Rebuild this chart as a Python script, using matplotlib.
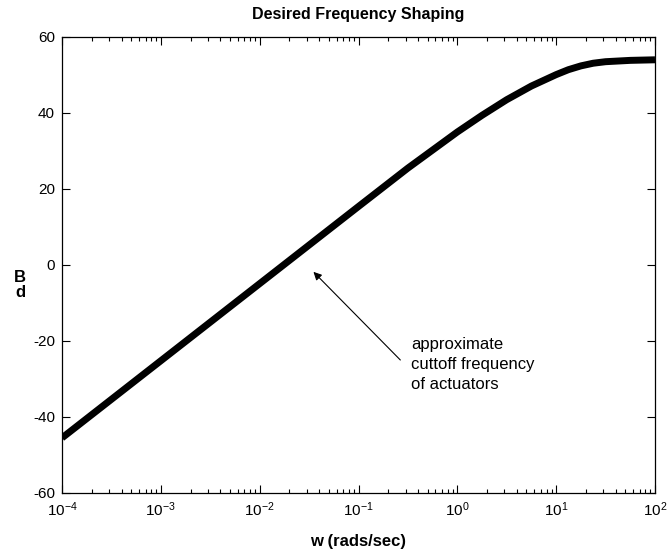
import matplotlib
matplotlib.use("Agg")
import matplotlib.pyplot as plt
from matplotlib.ticker import LogLocator, NullFormatter, FixedLocator

plt.rcParams['font.family'] = ['Liberation Sans', 'DejaVu Sans']
plt.rcParams['mathtext.fontset'] = 'custom'
plt.rcParams['mathtext.rm'] = 'Liberation Sans'
plt.rcParams['mathtext.it'] = 'Liberation Sans'
plt.rcParams['mathtext.bf'] = 'Liberation Sans:bold'
plt.rcParams['axes.unicode_minus'] = False

# Data
freq = [1e-4, 1e-3, 1e-2, 0.1, 0.316, 1.0, 1.78, 3.16, 5.62, 10.0,
        13.3, 17.8, 23.7, 31.6, 56.2, 100.0]
mag_db = [-45.5, -25.2, -4.9, 15.4, 25.5, 35.0, 39.4, 43.5, 47.1, 50.1,
          51.4, 52.4, 53.1, 53.5, 53.85, 54.0]

title = "Desired Frequency Shaping"
xlabel = "w (rads/sec)"
note = "approximate\ncuttoff frequency\nof actuators"
yticks = [-60, -40, -20, 0, 20, 40, 60]

fig = plt.figure(figsize=(6.68, 5.54), dpi=100)
ax = fig.add_axes([62/668, 1-493/554, (655-62)/668, (493-37)/554])

ax.semilogx(freq, mag_db, color='black', lw=5.0, solid_capstyle='butt',
            solid_joinstyle='round')
ax.set_xlim(1e-4, 1e2)
ax.set_ylim(-60, 60)
ax.yaxis.set_major_locator(FixedLocator(yticks))
ax.xaxis.set_major_locator(LogLocator(base=10, numticks=10))
ax.xaxis.set_minor_locator(LogLocator(base=10, subs=range(2, 10), numticks=100))
ax.xaxis.set_minor_formatter(NullFormatter())

ax.tick_params(which='both', direction='in', top=True, right=True,
               labelsize=11, width=0.8, pad=5)
ax.tick_params(which='major', length=6)
ax.tick_params(which='minor', length=3)
for s in ax.spines.values():
    s.set_linewidth(0.9)

ax.set_title(title, fontsize=11.5, fontweight='bold', pad=13)
ax.set_xlabel(xlabel, fontsize=12, fontweight='bold', labelpad=11)

# y label rendered as stacked upright letters
fig.text(20/668, 1-278/554, "B", fontsize=12, fontweight='bold', ha='center', va='center')
fig.text(20/668, 1-292/554, "d", fontsize=12, fontweight='bold', ha='center', va='center')

ax.annotate("", xy=(0.035, -1.8), xytext=(0.265, -25),
            arrowprops=dict(arrowstyle='-|>', color='black', lw=0.8,
                            mutation_scale=12, shrinkA=0, shrinkB=0))
ax.text(0.343, -19.0, note, fontsize=12, ha='left', va='top', linespacing=1.42)

fig.savefig("out.png", dpi=100)
